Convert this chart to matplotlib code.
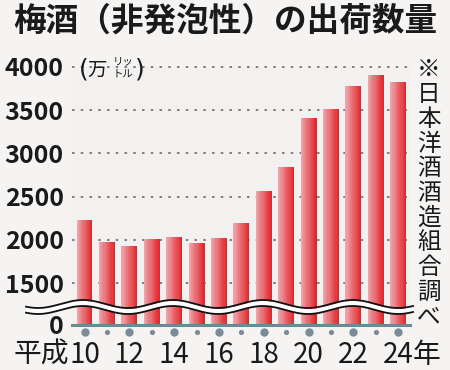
import numpy as np
import matplotlib
matplotlib.use("Agg")
import matplotlib.pyplot as plt
from matplotlib.transforms import blended_transform_factory
from matplotlib.colors import to_rgb

plt.rcParams['font.family'] = ['Noto Sans CJK JP', 'DejaVu Sans']

# data (万リットル)
years = list(range(10, 25))
volume = [2230, 1975, 1930, 2010, 2035, 1965, 2020, 2195,
          2570, 2840, 3410, 3515, 3780, 3905, 3825]
yticks = [0, 1500, 2000, 2500, 3000, 3500, 4000]
year_labels = ["10", "12", "14", "16", "18", "20", "22", "24"]
title = "梅酒（非発泡性）の出荷数量"
source = "※日本洋酒酒造組合調べ"

W, H = 450, 370
fig = plt.figure(figsize=(4.5, 3.7), dpi=100)
fig.patch.set_facecolor('#f5f4f3')


def fx(px):
    return px / W


def fy(py):
    return 1 - py / H


# broken axis: 0..1500 squeezed
k = 485 / 1500


def fwd(v):
    v = np.asarray(v, dtype=float)
    return np.where(v >= 1500, v, 1500 - (1500 - v) * k)


def inv(t):
    t = np.asarray(t, dtype=float)
    return np.where(t >= 1500, t, 1500 - (1500 - t) / k)


ax = fig.add_axes([fx(72), fy(325), fx(410) - fx(72), fy(67) - fy(325)])
ax.set_facecolor('#f3f1f0')
ax.set_yscale('function', functions=(fwd, inv))
ax.set_ylim(0, 4000)
ax.set_xlim(-0.558, 14.53)

x = np.arange(len(years))
# gradient bars, drawn as thin strips
n = 14
bw = 0.714
c0 = np.array(to_rgb('#eca6ae'))
c1 = np.array(to_rgb('#e2262c'))
for i in range(n):
    t = i / (n - 1)
    c = c0 * (1 - t) + c1 * t
    off = -bw / 2 + bw * (i + 0.5) / n
    ax.bar(x + off, volume, width=bw / n, color=c, linewidth=0, zorder=2)

# dotted grid
ax.hlines(yticks[1:], -0.558, 14.53, colors='#7f7f7f',
          linestyles=(0, (1.3, 3.2)), linewidth=1.4, zorder=1, clip_on=False)

for s in ax.spines.values():
    s.set_visible(False)
ax.axhline(0, color='#6d8894', linewidth=2.2, zorder=3, clip_on=False)

ax.set_yticks(yticks)
ax.set_yticklabels([str(v) for v in yticks], fontsize=18, fontweight='bold',
                   color='#1a1a1a')
ax.tick_params(axis='y', length=0, pad=6)
ax.set_xticks([])

# year dots under bars
tr = blended_transform_factory(ax.transData, ax.transAxes)
big = x[::2]
small = x[1::2]
ax.scatter(big, [-0.028] * len(big), s=36, color='#7b8b99', transform=tr,
           clip_on=False, zorder=3, linewidths=0)
ax.scatter(small, [-0.028] * len(small), s=14, color='#7b8b99', transform=tr,
           clip_on=False, zorder=3, linewidths=0)

# year labels
for xi, lab in zip(big, year_labels):
    ax.text(xi, -0.116, lab, transform=tr, ha='center', va='center',
            fontsize=20, color='#1a1a1a')
ax.annotate("平成", xy=(big[0], -0.116), xycoords=tr, xytext=(-11, 0),
            textcoords='offset points', ha='right', va='center',
            fontsize=20, color='#1a1a1a', annotation_clip=False)
ax.annotate("年", xy=(big[-1], -0.116), xycoords=tr, xytext=(10.5, 0),
            textcoords='offset points', ha='left', va='center',
            fontsize=20, color='#1a1a1a', annotation_clip=False)

# overlay in pixel coords for decorations
ov = fig.add_axes([0, 0, 1, 1], zorder=5)
ov.set_xlim(0, W)
ov.set_ylim(H, 0)
ov.axis('off')

# axis break wave
xs = np.linspace(26, 413, 500)
yc = 307 - 4 * np.cos(2 * np.pi * (xs - 173) / 90)
ov.fill_between(xs, yc - 2.6, yc + 2.6, color='white', linewidth=0)
ov.plot(xs, yc - 3.0, color='#111111', linewidth=1.3)
ov.plot(xs, yc + 3.0, color='#111111', linewidth=1.3)

# title
fig.text(0.5, fy(21), title, ha='center', va='center', fontsize=23.5,
         fontweight='bold', color='#1a1a1a')

# unit label
fig.text(fx(84), fy(69), "(", ha='center', va='center', fontsize=18,
         color='#1a1a1a', family='DejaVu Sans')
fig.text(fx(97.5), fy(70), "万", ha='center', va='center', fontsize=14,
         color='#1a1a1a')
fig.text(fx(123), fy(61), "リッ", ha='center', va='center', fontsize=7.5,
         color='#1a1a1a')
fig.text(fx(123), fy(73.5), "トル", ha='center', va='center', fontsize=7.5,
         color='#1a1a1a')
fig.text(fx(140), fy(69), ")", ha='center', va='center', fontsize=18,
         color='#1a1a1a', family='DejaVu Sans')

# vertical source note
for i, ch in enumerate(source):
    fig.text(fx(429), fy(70 + 24.7 * i), ch, ha='center', va='center',
             fontsize=17, color='#1a1a1a')

fig.savefig("out.png", dpi=100, facecolor=fig.get_facecolor())
